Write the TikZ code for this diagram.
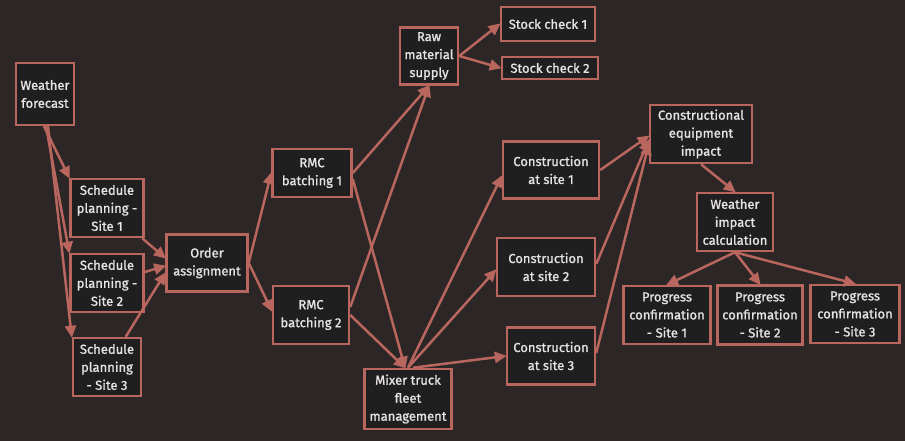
\documentclass[tikz,border=0pt]{standalone}
\usepackage{fontspec}
\setmainfont{Fira Sans}
\newfontfamily\boxfont{Fira Sans}[FakeBold=1.2]
\usepackage{xcolor}
\usetikzlibrary{arrows.meta,positioning}
\definecolor{flowbg}{HTML}{2C2726}
\definecolor{flowbox}{HTML}{1F1F1F}
\definecolor{flowedge}{HTML}{B8665E}
\definecolor{flowtext}{HTML}{E6E3E2}

\tikzset{
  box/.style={draw=flowedge, line width=2.5pt, fill=flowbox, text=flowtext,
    align=center, inner sep=2pt, font=\boxfont\fontsize{13}{18}\selectfont},
  flow/.style={draw=flowedge, line width=2.5pt,
    -{Triangle[length=12pt,width=11pt]}, shorten >=-1pt},
}

\begin{document}
\begin{tikzpicture}[x=1pt,y=-1pt]
\fill[flowbg] (0,0) rectangle (905,441);
\useasboundingbox (0,0) rectangle (905,441);
% left column
\node[box, minimum width=58, minimum height=62] (wf) at (45,94) {Weather\\forecast};
\node[box, minimum width=73, minimum height=58] (sp1) at (107,208) {Schedule\\planning -\\Site 1};
\node[box, minimum width=73, minimum height=58] (sp2) at (107,283) {Schedule\\planning -\\Site 2};
\node[box, minimum width=68, minimum height=58] (sp3) at (107,367) {Schedule\\planning\\- Site 3};
\node[box, minimum width=81, minimum height=57] (oa) at (207,263) {Order\\assignment};
% batching and supply
\node[box, minimum width=79, minimum height=48] (rmc1) at (312,173) {RMC\\batching 1};
\node[box, minimum width=76, minimum height=58] (rmc2) at (311,315) {RMC\\batching 2};
\node[box, minimum width=58, minimum height=57] (raw) at (429,56) {Raw\\material\\supply};
\node[box, minimum width=94, minimum height=34] (sc1) at (548,24) {Stock check 1};
\node[box, minimum width=96, minimum height=22] (sc2) at (550,68) {Stock check 2};
\node[box, minimum width=87, minimum height=60] (mix) at (408,399) {Mixer truck\\fleet\\management};
% construction sites
\node[box, minimum width=96, minimum height=57] (cs1) at (551,170) {Construction\\at site 1};
\node[box, minimum width=98, minimum height=58] (cs2) at (546,267) {Construction\\at site 2};
\node[box, minimum width=88, minimum height=57] (cs3) at (551,356) {Construction\\at site 3};
% impact and progress
\node[box, minimum width=102, minimum height=58] (cei) at (701,134) {Constructional\\equipment\\impact};
\node[box, minimum width=76, minimum height=58] (wic) at (735,222) {Weather\\impact\\calculation};
\node[box, minimum width=87, minimum height=58] (pc1) at (667,315) {Progress\\confirmation\\- Site 1};
\node[box, minimum width=85, minimum height=59] (pc2) at (760,315) {Progress\\confirmation\\- Site 2};
\node[box, minimum width=89, minimum height=58] (pc3) at (855,314) {Progress\\confirmation\\- Site 3};

% weather forecast fans out
\draw[flow] ([xshift=-1]wf.south) -- (sp1.north west);
\draw[flow] ([xshift=1]wf.south) -- (sp2.north west);
\draw[flow] ([xshift=3]wf.south) -- (sp3.north west);
\foreach \s/\d in {sp1/5,sp2/-3,sp3/-10}
  \draw[flow] (\s) -- ([yshift=\d]oa.west);
\draw[flow] (oa.east) -- (rmc1.west);
\draw[flow] (oa.east) -- ([yshift=4]rmc2.west);
\draw[flow] (rmc1.east) -- (raw.south);
\draw[flow] ([yshift=8]rmc2.east) -- (raw.south);
\draw[flow] ([yshift=-6]rmc1.east) -- ([xshift=-3]mix.north);
\draw[flow] (rmc2.east) -- ([xshift=-3]mix.north);
\draw[flow] (raw.east) -- (sc1.west);
\draw[flow] (raw.east) -- (sc2.west);
\draw[flow] (mix.north) -- ([yshift=-6]cs1.west);
\draw[flow] (mix.north) -- ([yshift=-3]cs2.west);
\draw[flow] ([xshift=5]mix.north) -- (cs3.west);
\draw[flow] (cs1.east) -- ([yshift=-2]cei.west);
\draw[flow] ([yshift=3]cs2.east) -- ([yshift=-6]cei.west);
\draw[flow] ([yshift=3]cs3.east) -- ([yshift=-10]cei.west);
\draw[flow] (cei.south) -- (wic.north);
\foreach \p in {pc1,pc2,pc3}
  \draw[flow] (wic.south) -- (\p.north);
\end{tikzpicture}
\end{document}
